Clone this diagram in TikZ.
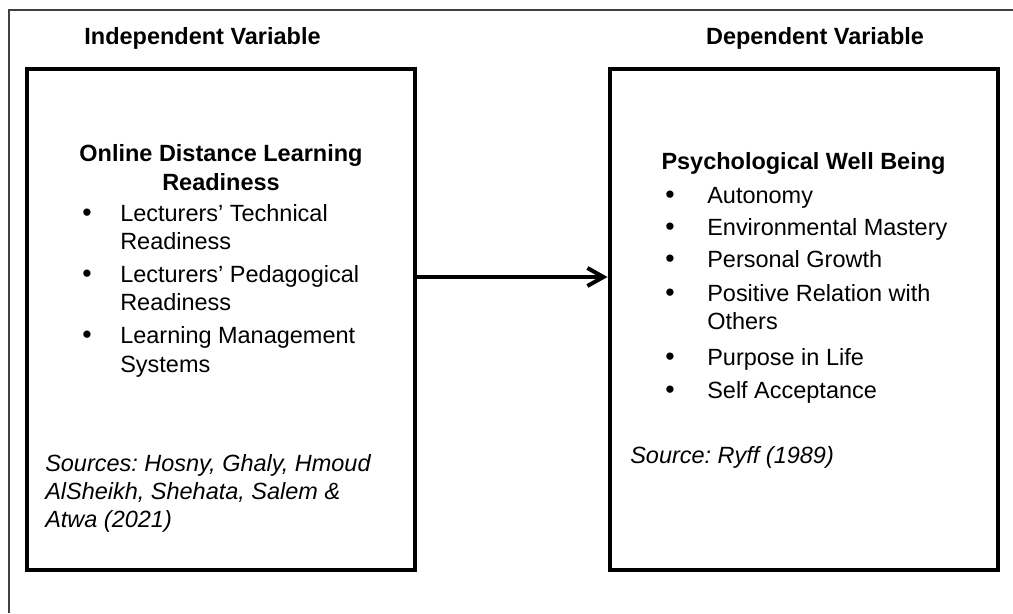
\documentclass[tikz,border=0pt]{standalone}
\usepackage{fontspec}
\setmainfont{Liberation Sans}
\usetikzlibrary{arrows.meta}
\frenchspacing

\begin{document}
\begin{tikzpicture}[
  box/.style={draw,line width=0.1cm,minimum width=9.7cm,minimum height=12.525cm,inner sep=0pt},
  txt/.style={anchor=base west,inner sep=0pt,font=\fontsize{16.7}{20}\selectfont},
  dot/.style={anchor=base,inner sep=0pt,font=\fontsize{19}{20}\selectfont},
  head/.style={anchor=base,inner sep=0pt,font=\fontsize{16.7}{20}\selectfont\bfseries},
  src/.style={anchor=base west,inner sep=0pt,font=\fontsize{16.7}{20}\selectfont\itshape}]
\useasboundingbox (0,0) rectangle (25.325,15.325);
\draw [line width=0.05cm,black!75] (0.225,0) |- (25.325,15.075);
\node (IV) [box] at (5.525,7.3375) {};
\node (DV) [box] at (20.0875,7.3375) {};
\draw [line width=0.1cm,-{Straight Barb[length=0.4cm,width=0.45cm]}] ([yshift=1.0625cm]IV.east) -- ([yshift=1.0625cm]DV.west);
% left side
\node (IVt) [head] at (5.0625,14.2) {Independent Variable};
\node (ODL) [head] at (5.525,11.275) {Online Distance Learning};
\node (ODLr) [head] at (5.525,10.55) {Readiness};
\node (b1) [dot] at (2.175,9.775) {•};
\node (l1) [txt] at (3,9.775) {Lecturers’ Technical};
\node (l1r) [txt] at (3,9.075) {Readiness};
\node (b2) [dot] at (2.175,8.25) {•};
\node (l2) [txt] at (3,8.25) {Lecturers’ Pedagogical};
\node (l2r) [txt] at (3,7.55) {Readiness};
\node (b3) [dot] at (2.175,6.725) {•};
\node (l3) [txt] at (3,6.725) {Learning Management};
\node (l3r) [txt] at (3,6.025) {Systems};
\node (s1) [src] at (1.125,3.55) {Sources: Hosny, Ghaly, Hmoud};
\node (s2) [src] at (1.125,2.85) {AlSheikh, Shehata, Salem \&};
\node (s3) [src] at (1.125,2.15) {Atwa (2021)};
% right side
\node (DVt) [head] at (20.375,14.2) {Dependent Variable};
\node (PWB) [head] at (20.0875,11.075) {Psychological Well Being};
\node (c1) [dot] at (16.75,10.225) {•};
\node (r1) [txt] at (17.675,10.225) {Autonomy};
\node (c2) [dot] at (16.75,9.425) {•};
\node (r2) [txt] at (17.675,9.425) {Environmental Mastery};
\node (c3) [dot] at (16.75,8.625) {•};
\node (r3) [txt] at (17.675,8.625) {Personal Growth};
\node (c4) [dot] at (16.75,7.775) {•};
\node (r4) [txt] at (17.675,7.775) {Positive Relation with};
\node (r4o) [txt] at (17.675,7.075) {Others};
\node (c5) [dot] at (16.75,6.2) {•};
\node (r5) [txt] at (17.675,6.2) {Purpose in Life};
\node (c6) [dot] at (16.75,5.375) {•};
\node (r6) [txt] at (17.675,5.375) {Self Acceptance};
\node (ry) [src] at (15.75,3.75) {Source: Ryff (1989)};
\end{tikzpicture}
\end{document}
